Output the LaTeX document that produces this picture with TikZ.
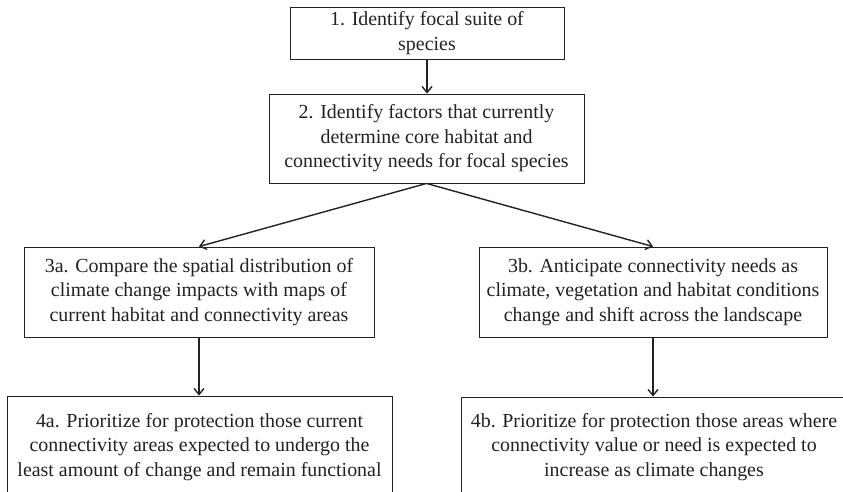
\documentclass[tikz,border=0pt]{standalone}
\usepackage{fontspec}
\setmainfont{Liberation Serif}
\usetikzlibrary{arrows.meta}
\usetikzlibrary{positioning}
\definecolor{inkcolor}{RGB}{34, 34, 34}

\begin{document}
\begin{tikzpicture}[x=1bp,y=-1bp,
        stepbox/.style={shape=rectangle,
              draw=inkcolor,
              line width=0.9bp,
              fill=white,
              text=inkcolor,
              align=center,
              inner sep=0pt,
              font=\fontsize{20}{24.5}\selectfont},
        flow/.style={draw=inkcolor,
              line width=1.4bp,
              -{Straight Barb[length=6bp,width=10bp,line width=1.4bp]}}]
        \clip (0,0) rectangle (843,492);
        \node[stepbox,
              minimum width = 274bp,
              minimum height = 52bp] (focal) at (427,33) {1. Identify focal suite of\\species};
        \node[stepbox,
              minimum width = 315bp,
              minimum height = 89bp] (factors) at (426.5,138.5) {2. Identify factors that currently\\determine core habitat and\\connectivity needs for focal species};
        \node[stepbox,
              minimum width = 350bp,
              minimum height = 90bp] (compare) at (199,292) {3a. Compare the spatial distribution of\\climate change impacts with maps of\\current habitat and connectivity areas};
        \node[stepbox,
              minimum width = 348bp,
              minimum height = 90bp] (anticipate) at (653,292) {3b. Anticipate connectivity needs as\\climate, vegetation and habitat conditions\\change and shift across the landscape};
        \node[stepbox,
              minimum width = 385bp,
              minimum height = 102bp] (protectA) at (199.5,447) {4a. Prioritize for protection those current\\connectivity areas expected to undergo the\\least amount of change and remain functional};
        \node[stepbox,
              minimum width = 386bp,
              minimum height = 100bp] (protectB) at (654,447) {4b. Prioritize for protection those areas where\\connectivity value or need is expected to\\increase as climate changes};
        % connectors
        \draw[flow] (focal.south) -- (focal.south |- factors.north);
        \draw[flow] (factors.south) -- (compare.north);
        \draw[flow] (factors.south) -- (anticipate.north);
        \draw[flow] (compare.south) -- (compare.south |- protectA.north);
        \draw[flow] (anticipate.south) -- (anticipate.south |- protectB.north);
    \end{tikzpicture}
\end{document}
